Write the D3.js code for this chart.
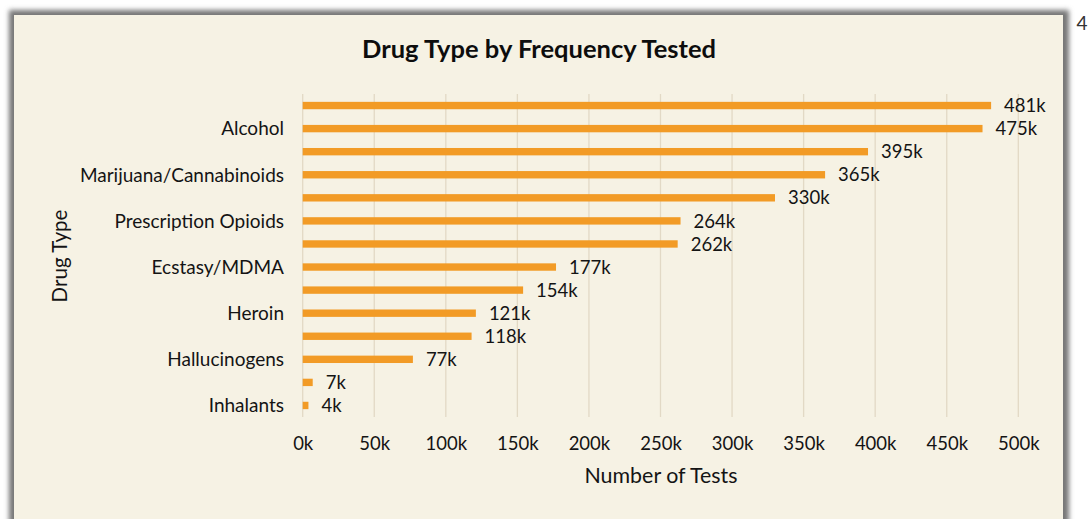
<!DOCTYPE html>
<html>
<head>
<meta charset="utf-8">
<script src="https://cdn.jsdelivr.net/npm/d3@7"></script>
<style>
  html, body { margin: 0; padding: 0; background: #ffffff; }
  svg { display: block; font-family: Lato, "Open Sans", sans-serif; }
</style>
</head>
<body>
<svg id="chart" width="1091" height="519"></svg>
<script>
// Drug tests by type, top to bottom; only every other row carries a visible axis label
const categories = [
  "", "Alcohol", "", "Marijuana/Cannabinoids", "", "Prescription Opioids", "",
  "Ecstasy/MDMA", "", "Heroin", "", "Hallucinogens", "", "Inhalants"
];
const tests = [481, 475, 395, 365, 330, 264, 262, 177, 154, 121, 118, 77, 7, 4]; // thousands
const xTicks = [0, 50, 100, 150, 200, 250, 300, 350, 400, 450, 500];

const svg = d3.select("#chart");

// soft drop shadow around the panel
const defs = svg.append("defs");
const f = defs.append("filter").attr("id", "blur").attr("x", "-5%").attr("y", "-5%")
  .attr("width", "110%").attr("height", "110%");
f.append("feGaussianBlur").attr("stdDeviation", 2.4);

svg.append("rect").attr("x", 9).attr("y", 10).attr("width", 1060).attr("height", 540)
  .attr("fill", "#777777").attr("filter", "url(#blur)");
svg.append("rect").attr("x", 14).attr("y", 15).attr("width", 1049).attr("height", 540)
  .attr("fill", "#f6f2e4");

// page number
svg.append("text").attr("x", 1082).attr("y", 30).attr("text-anchor", "middle")
  .attr("font-size", 19).attr("fill", "#333").text("4");

const margin = { left: 302.7, right: 1018.3, top: 94, bottom: 417 };

const x = d3.scaleLinear().domain([0, 500]).range([margin.left, margin.right]);
const y = d3.scaleBand().domain(d3.range(categories.length))
  .range([margin.top, margin.bottom]).paddingInner(0.68).paddingOuter(0.34);

// vertical gridlines
svg.append("g").selectAll("line").data(xTicks).join("line")
  .attr("x1", d => x(d)).attr("x2", d => x(d))
  .attr("y1", margin.top).attr("y2", margin.bottom)
  .attr("stroke", "#e2d9c5").attr("stroke-width", 1.3);

// bars
svg.append("g").selectAll("rect").data(tests).join("rect")
  .attr("x", x(0)).attr("y", (d, i) => y(i))
  .attr("width", d => x(d) - x(0)).attr("height", y.bandwidth())
  .attr("fill", "#f29b26");

// value labels
svg.append("g").selectAll("text").data(tests).join("text")
  .attr("x", d => x(d) + 13).attr("y", (d, i) => y(i) + y.bandwidth() / 2)
  .attr("dy", "0.36em").attr("font-size", 18.5).attr("fill", "#141414")
  .text(d => d + "k");

// x axis tick labels
const xAxis = d3.axisBottom(x).tickValues(xTicks).tickFormat(d => d + "k").tickSize(0).tickPadding(0);
const gx = svg.append("g").attr("transform", `translate(0,${450})`).call(xAxis);
gx.select(".domain").remove();
gx.selectAll("text").attr("font-size", 18.5).attr("fill", "#141414")
  .attr("font-family", "Lato, sans-serif").attr("dy", 0);

// y axis category labels
const yAxis = d3.axisLeft(y).tickFormat(i => categories[i]).tickSize(0).tickPadding(0);
const gy = svg.append("g").attr("transform", `translate(284,0)`).call(yAxis);
gy.select(".domain").remove();
gy.selectAll("text").attr("font-size", 19).attr("fill", "#141414")
  .attr("font-family", "Lato, sans-serif").attr("dy", "0.36em");

// titles
svg.append("text").attr("x", 539).attr("y", 58).attr("text-anchor", "middle")
  .attr("font-size", 25.5).attr("font-weight", "bold").attr("fill", "#0d0d0d")
  .text("Drug Type by Frequency Tested");
svg.append("text").attr("x", 661).attr("y", 483).attr("text-anchor", "middle")
  .attr("font-size", 21.4).attr("fill", "#141414").text("Number of Tests");
svg.append("text").attr("transform", "translate(67,256) rotate(-90)")
  .attr("text-anchor", "middle").attr("font-size", 20.5).attr("fill", "#141414")
  .text("Drug Type");
</script>
</body>
</html>
